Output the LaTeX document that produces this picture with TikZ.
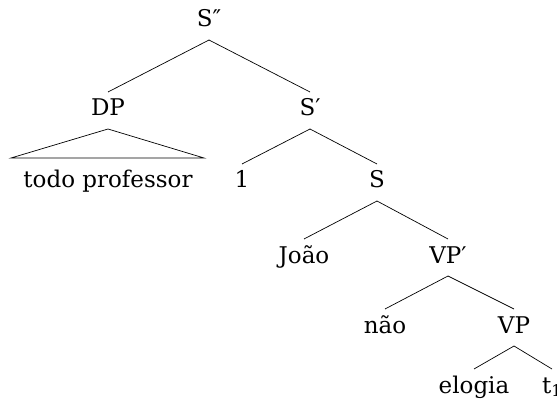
\documentclass[tikz,border=0pt]{standalone}
\usepackage{fontspec}
\setmainfont{DejaVu Serif}
\begin{document}
\begin{tikzpicture}[x=1pt,y=-1pt,
  lbl/.style={anchor=base, inner xsep=0pt, inner ysep=0pt, text height=17pt, text depth=6pt,
              font=\fontsize{23}{28}\selectfont, outer ysep=7pt},
  edge/.style={line width=0.7pt}]
\useasboundingbox (0,0) rectangle (557,406);
\node[lbl] (s2) at (209,27) {S″};
\node[lbl] (dp) at (108,116) {DP};
\node[lbl] (s1) at (310,116) {S′};
\node[lbl] (tp) at (108,188) {todo professor};
\node[lbl] (one) at (242,188) {1};
\node[lbl] (s) at (377,188) {S};
\node[lbl] (joao) at (304,263) {João};
\node[lbl] (vp1) at (448,263) {VP′};
\node[lbl] (nao) at (385,333) {não};
\node[lbl] (vp) at (514,333) {VP};
\node[lbl] (elogia) at (474,393) {elogia};
\node[lbl] (t) at (552,393) {t\textsubscript{1}};
\coordinate (bl) at (11,158);
\coordinate (br) at (204,158);
\draw[edge] (s2.south) -- (dp.north);
\draw[edge] (s2.south) -- (s1.north);
\draw[edge] (dp.south) -- (bl) -- (br) -- cycle;
\draw[edge] (s1.south) -- (one.north);
\draw[edge] (s1.south) -- (s.north);
\draw[edge] (s.south) -- (joao.north);
\draw[edge] (s.south) -- (vp1.north);
\draw[edge] (vp1.south) -- (nao.north);
\draw[edge] (vp1.south) -- (vp.north);
\draw[edge] (vp.south) -- (elogia.north);
\draw[edge] (vp.south) -- (t.north);
\end{tikzpicture}
\end{document}
